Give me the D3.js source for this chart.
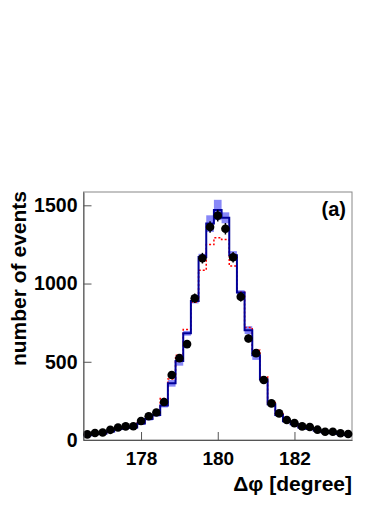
<!DOCTYPE html>
<html>
<head>
<meta charset='utf-8'>
<title>delta phi</title>
<script src='https://d3js.org/d3.v7.min.js'></script>
<style>
body { margin: 0; background: #fff; }
text { font-family: 'Liberation Sans', Arial, sans-serif; font-weight: bold; fill: #000; }
</style>
</head>
<body>
<div id="container"></div>
<script>
// ******* Data (bin width 0.2 degree) *******
const binCenters = [176.6, 176.8, 177.0, 177.2, 177.4, 177.6, 177.8, 178.0, 178.2, 178.4,
                    178.6, 178.8, 179.0, 179.2, 179.4, 179.6, 179.8, 180.0, 180.2, 180.4,
                    180.6, 180.8, 181.0, 181.2, 181.4, 181.6, 181.8, 182.0, 182.2, 182.4,
                    182.6, 182.8, 183.0, 183.2, 183.4];
const dataCounts = [36, 45, 48, 65, 80, 87, 88, 121, 152, 176,
                    243, 415, 523, 613, 906, 1162, 1361, 1434, 1350, 1168,
                    915, 649, 555, 383, 234, 170, 128, 108, 87, 83,
                    66, 53, 53, 43, 38];
const mcCounts = [30, 38, 42, 55, 70, 78, 80, 105, 135, 160,
                  220, 362, 505, 682, 888, 1170, 1383, 1470, 1420, 1180,
                  942, 702, 542, 386, 228, 160, 120, 100, 80, 72,
                  60, 50, 45, 38, 32];
const mcErr = [8, 8, 8, 8, 8, 8, 8, 9, 10, 10,
               12, 21, 30, 15, 15, 20, 53, 65, 35, 27,
               15, 25, 30, 15, 12, 10, 9, 8, 8, 8,
               8, 8, 8, 8, 8];
const altCounts = [32, 40, 44, 58, 73, 80, 83, 110, 140, 168,
                   265, 390, 542, 706, 880, 1085, 1249, 1292, 1281, 1112,
                   945, 719, 574, 404, 240, 168, 125, 104, 84, 75,
                   62, 52, 47, 40, 34];
const xTicks = [178, 180, 182];
const yTicks = [0, 500, 1000, 1500];
const binWidth = 0.2;

// ******* Constants *******
const width = 392, height = 508;
const plot = { left: 83.5, right: 352, top: 192, bottom: 440 };

const svg = d3.select("#container").append("svg")
  .attr("width", width)
  .attr("height", height)
  .style("display", "block");

const x = d3.scaleLinear().domain([176.5, 183.5]).range([plot.left, plot.right]);
const y = d3.scaleLinear().domain([0, 1585]).range([plot.bottom, plot.top]);

const bins = binCenters.map((c, i) => ({
  lo: c - binWidth / 2, hi: c + binWidth / 2, c: c,
  data: dataCounts[i], mc: mcCounts[i], err: mcErr[i], alt: altCounts[i]
}));

// frame
svg.append("rect")
  .attr("x", plot.left).attr("y", plot.top)
  .attr("width", plot.right - plot.left).attr("height", plot.bottom - plot.top)
  .attr("fill", "none").attr("stroke", "#888").attr("stroke-width", 1);

// MC uncertainty band
svg.append("g").selectAll("rect")
  .data(bins).enter().append("rect")
  .attr("x", d => x(d.lo))
  .attr("width", d => x(d.hi) - x(d.lo))
  .attr("y", d => y(d.mc + d.err))
  .attr("height", d => y(d.mc - d.err) - y(d.mc + d.err))
  .attr("fill", "#5555f5")
  .attr("fill-opacity", 0.7);

// step outline helper
function steps(key) {
  const pts = [];
  bins.forEach(d => { pts.push([d.lo, d[key]]); pts.push([d.hi, d[key]]); });
  return pts;
}
const stepLine = d3.line().x(p => x(p[0])).y(p => y(p[1]));

// red dotted histogram
svg.append("path")
  .attr("d", stepLine(steps("alt")))
  .attr("fill", "none")
  .attr("stroke", "#ff0000")
  .attr("stroke-width", 1.5)
  .attr("stroke-dasharray", "2,2");

// blue MC histogram
svg.append("path")
  .attr("d", stepLine(steps("mc")))
  .attr("fill", "none")
  .attr("stroke", "#000099")
  .attr("stroke-width", 2);

// data points with sqrt(N) errors
const pts = svg.append("g");
pts.selectAll("line")
  .data(bins).enter().append("line")
  .attr("x1", d => x(d.c)).attr("x2", d => x(d.c))
  .attr("y1", d => y(d.data + Math.sqrt(d.data)))
  .attr("y2", d => y(d.data - Math.sqrt(d.data)))
  .attr("stroke", "#000").attr("stroke-width", 1.5);
pts.selectAll("circle")
  .data(bins).enter().append("circle")
  .attr("cx", d => x(d.c)).attr("cy", d => y(d.data))
  .attr("r", 4.3).attr("fill", "#000");

// X axis
const xAxis = svg.append("g").attr("transform", `translate(0,${plot.bottom})`);
xAxis.call(d3.axisBottom(x).tickValues(d3.range(177, 183.5, 0.5)).tickSize(-4).tickSizeOuter(0).tickFormat(""));
xAxis.call(d3.axisBottom(x).tickValues(xTicks).tickSize(-8).tickSizeOuter(0).tickPadding(5).tickFormat(d3.format("d")));
xAxis.selectAll("path.domain").attr("stroke", "#555");
xAxis.selectAll(".tick line").attr("stroke", "#555");
xAxis.selectAll("text").style("font-size", "19px").attr("dy", "1.05em");

// Y axis
const yAxis = svg.append("g").attr("transform", `translate(${plot.left},0)`);
yAxis.call(d3.axisLeft(y).tickValues(d3.range(100, 1585, 100)).tickSize(-4).tickSizeOuter(0).tickFormat(""));
yAxis.call(d3.axisLeft(y).tickValues(yTicks).tickSize(-8).tickSizeOuter(0).tickPadding(6).tickFormat(d3.format("d")));
yAxis.selectAll("path.domain").attr("stroke", "#555");
yAxis.selectAll(".tick line").attr("stroke", "#555");
yAxis.selectAll("text").style("font-size", "19.5px");

// titles
svg.append("text")
  .attr("x", plot.right).attr("y", 491)
  .attr("text-anchor", "end")
  .style("font-size", "21px")
  .text("\u0394\u03c6 [degree]");

svg.append("text")
  .attr("transform", `translate(26,${plot.top - 1}) rotate(-90)`)
  .attr("text-anchor", "end")
  .style("font-size", "21px")
  .text("number of events");

svg.append("text")
  .attr("x", 346).attr("y", 216)
  .attr("text-anchor", "end")
  .style("font-size", "20px")
  .text("(a)");
</script>
</body>
</html>
